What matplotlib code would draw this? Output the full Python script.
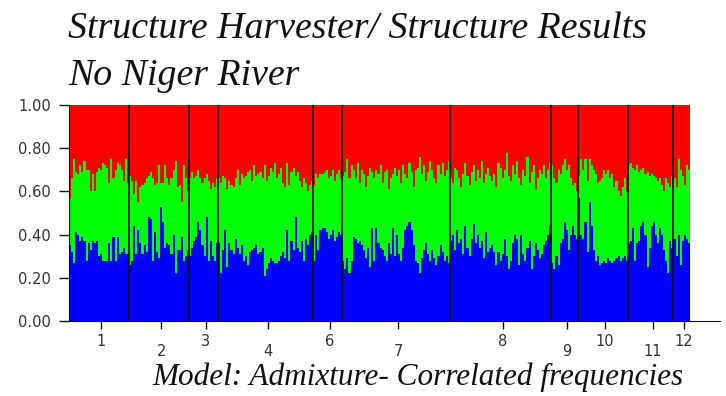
import matplotlib
matplotlib.use("Agg")
import matplotlib.pyplot as plt
import numpy as np

# Population labels (there is no population 5 in this run) and sample counts
pop_labels = ["1", "2", "3", "4", "6", "7", "8", "9", "10", "11", "12"]
pop_sizes = [29, 29, 14, 46, 14, 52, 49, 13, 24, 22, 8]

# Membership of each individual in the blue cluster (q1)
q_blue = [
    # 1
    0.35, 0.32, 0.27, 0.41, 0.40, 0.37, 0.39, 0.37, 0.28, 0.36, 0.33, 0.37, 0.36, 0.37, 0.30,
    0.31, 0.28, 0.28, 0.28, 0.36, 0.28, 0.39, 0.28, 0.39, 0.31, 0.32, 0.34, 0.31, 0.31,
    # 2
    0.26, 0.28, 0.44, 0.31, 0.42, 0.36, 0.31, 0.35, 0.32, 0.48, 0.47, 0.28, 0.41, 0.32, 0.29,
    0.53, 0.46, 0.34, 0.36, 0.35, 0.31, 0.40, 0.22, 0.33, 0.33, 0.39, 0.28, 0.30, 0.33,
    # 3
    0.30, 0.34, 0.37, 0.39, 0.46, 0.42, 0.35, 0.30, 0.48, 0.28, 0.37, 0.30, 0.28, 0.36,
    # 4
    0.36, 0.22, 0.33, 0.42, 0.25, 0.36, 0.33, 0.31, 0.38, 0.34, 0.31, 0.35, 0.28, 0.30, 0.26,
    0.32, 0.33, 0.34, 0.35, 0.31, 0.32, 0.34, 0.21, 0.24, 0.27, 0.29, 0.28, 0.27, 0.27, 0.28,
    0.30, 0.32, 0.29, 0.42, 0.28, 0.37, 0.33, 0.48, 0.34, 0.32, 0.37, 0.28, 0.38, 0.35, 0.40,
    0.41,
    # 6
    0.28, 0.40, 0.33, 0.42, 0.43, 0.43, 0.41, 0.38, 0.40, 0.42, 0.37, 0.39, 0.41, 0.40,
    # 7
    0.28, 0.24, 0.29, 0.22, 0.28, 0.39, 0.38, 0.36, 0.37, 0.35, 0.33, 0.29, 0.34, 0.25, 0.43,
    0.28, 0.43, 0.36, 0.34, 0.33, 0.30, 0.28, 0.36, 0.31, 0.43, 0.30, 0.40, 0.31, 0.28, 0.34,
    0.42, 0.44, 0.46, 0.42, 0.35, 0.28, 0.27, 0.22, 0.29, 0.33, 0.36, 0.31, 0.28, 0.33, 0.29,
    0.26, 0.30, 0.35, 0.32, 0.28, 0.30, 0.27,
    # 8
    0.37, 0.40, 0.33, 0.42, 0.36, 0.38, 0.31, 0.44, 0.34, 0.30, 0.38, 0.45, 0.36, 0.40, 0.34,
    0.37, 0.29, 0.41, 0.32, 0.34, 0.35, 0.32, 0.26, 0.32, 0.28, 0.31, 0.38, 0.30, 0.24, 0.28,
    0.36, 0.40, 0.38, 0.26, 0.40, 0.31, 0.28, 0.34, 0.37, 0.24, 0.30, 0.36, 0.33, 0.29, 0.31,
    0.35, 0.37, 0.40, 0.44,
    # 9
    0.27, 0.24, 0.30, 0.26, 0.36, 0.38, 0.46, 0.42, 0.33, 0.40, 0.44, 0.40, 0.38,
    # 10
    0.57, 0.40, 0.38, 0.46, 0.32, 0.55, 0.44, 0.33, 0.28, 0.30, 0.26, 0.27, 0.28, 0.27, 0.29,
    0.28, 0.27, 0.28, 0.29, 0.30, 0.28, 0.29, 0.30, 0.28,
    # 11
    0.36, 0.37, 0.43, 0.28, 0.36, 0.37, 0.44, 0.46, 0.40, 0.25, 0.34, 0.44, 0.46, 0.40, 0.36,
    0.43, 0.40, 0.33, 0.28, 0.22, 0.37, 0.34,
    # 12
    0.38, 0.30, 0.40, 0.26, 0.37, 0.40, 0.38, 0.36,
]

# Cumulative membership in blue + green clusters (q1 + q2); red fills the rest
q_blue_green = [
    # 1
    0.57, 0.66, 0.75, 0.69, 0.68, 0.72, 0.69, 0.74, 0.70, 0.70, 0.60, 0.68, 0.60, 0.69, 0.71,
    0.70, 0.73, 0.72, 0.71, 0.64, 0.75, 0.66, 0.70, 0.73, 0.72, 0.70, 0.65, 0.75, 0.64,
    # 2
    0.67, 0.65, 0.59, 0.65, 0.55, 0.62, 0.63, 0.64, 0.66, 0.67, 0.69, 0.66, 0.63, 0.64, 0.72,
    0.64, 0.64, 0.72, 0.66, 0.63, 0.66, 0.70, 0.74, 0.62, 0.63, 0.55, 0.72, 0.66, 0.60,
    # 3
    0.66, 0.69, 0.66, 0.67, 0.70, 0.66, 0.64, 0.66, 0.68, 0.65, 0.61, 0.64, 0.62, 0.66,
    # 4
    0.66, 0.64, 0.67, 0.66, 0.61, 0.65, 0.63, 0.62, 0.66, 0.70, 0.63, 0.68, 0.66, 0.67, 0.69,
    0.70, 0.65, 0.72, 0.67, 0.68, 0.69, 0.66, 0.72, 0.65, 0.67, 0.71, 0.69, 0.73, 0.66, 0.68,
    0.71, 0.64, 0.62, 0.73, 0.63, 0.69, 0.71, 0.67, 0.69, 0.65, 0.62, 0.66, 0.64, 0.60, 0.63,
    0.65,
    # 6
    0.63, 0.68, 0.66, 0.68, 0.68, 0.69, 0.70, 0.66, 0.67, 0.70, 0.65, 0.68, 0.70, 0.66,
    # 7
    0.67, 0.69, 0.75, 0.66, 0.72, 0.70, 0.66, 0.73, 0.64, 0.70, 0.68, 0.62, 0.67, 0.71, 0.69,
    0.66, 0.70, 0.68, 0.72, 0.64, 0.69, 0.70, 0.61, 0.66, 0.68, 0.71, 0.67, 0.70, 0.64, 0.72,
    0.68, 0.66, 0.73, 0.69, 0.62, 0.70, 0.71, 0.76, 0.68, 0.72, 0.65, 0.69, 0.74, 0.70, 0.66,
    0.64, 0.72, 0.68, 0.73, 0.67, 0.70, 0.74,
    # 8
    0.66, 0.64, 0.71, 0.70, 0.66, 0.62, 0.68, 0.73, 0.67, 0.63, 0.69, 0.72, 0.65, 0.70, 0.66,
    0.74, 0.64, 0.68, 0.71, 0.67, 0.65, 0.68, 0.62, 0.73, 0.71, 0.66, 0.70, 0.78, 0.67, 0.65,
    0.72, 0.68, 0.74, 0.66, 0.63, 0.70, 0.67, 0.76, 0.64, 0.69, 0.72, 0.61, 0.66, 0.70, 0.68,
    0.72, 0.66, 0.70, 0.73,
    # 9
    0.72, 0.66, 0.64, 0.70, 0.68, 0.72, 0.75, 0.70, 0.72, 0.66, 0.63, 0.64, 0.60,
    # 10
    0.67, 0.75, 0.70, 0.75, 0.65, 0.75, 0.72, 0.70, 0.68, 0.64, 0.65, 0.66, 0.70, 0.68, 0.70,
    0.66, 0.68, 0.62, 0.65, 0.60, 0.58, 0.62, 0.66, 0.60,
    # 11
    0.72, 0.73, 0.71, 0.70, 0.72, 0.69, 0.70, 0.71, 0.68, 0.69, 0.67, 0.68, 0.67, 0.66, 0.65,
    0.66, 0.63, 0.60, 0.66, 0.64, 0.62, 0.67,
    # 12
    0.66, 0.62, 0.75, 0.70, 0.67, 0.63, 0.72, 0.70,
]

y_ticks = [0.0, 0.2, 0.4, 0.6, 0.8, 1.0]

BLUE = "#0000ff"
GREEN = "#00ff00"
RED = "#ff0000"
INK = "#111111"
LABEL = "#333333"

blue = np.array(q_blue)
cum = np.array(q_blue_green)
n = len(blue)
x = np.arange(n)

W, H = 726, 396
fig = plt.figure(figsize=(W / 100, H / 100), dpi=100)
fig.patch.set_facecolor("white")

ax_left, ax_right = 69, 720
ax_top, ax_bottom = 105, 321
ax = fig.add_axes([ax_left / W, 1 - ax_bottom / H,
                   (ax_right - ax_left) / W, (ax_bottom - ax_top) / H])

# stacked membership bars, one per individual
ax.bar(x, blue, width=1.0, align="edge", color=BLUE, linewidth=0)
ax.bar(x, cum - blue, bottom=blue, width=1.0, align="edge", color=GREEN, linewidth=0)
ax.bar(x, 1 - cum, bottom=cum, width=1.0, align="edge", color=RED, linewidth=0)

# population separators
edges = np.cumsum(pop_sizes)
for e in edges[:-1]:
    ax.axvline(e, color=INK, linewidth=1.3, zorder=3)

px_per_bar = (690 - ax_left) / n
ax.set_xlim(0, n + (ax_right - 690) / px_per_bar)
ax.set_ylim(0, 1)

ax.set_yticks(y_ticks)
ax.set_yticklabels([f"{t:.2f}" for t in y_ticks], fontsize=10.5,
                   family="DejaVu Sans", color=LABEL)
ax.tick_params(axis="y", length=7, width=1, color=INK, pad=6)

starts = edges - np.array(pop_sizes)
centers = starts + np.array(pop_sizes) / 2 + 1
ax.set_xticks(centers)
ax.set_xticklabels([])
ax.tick_params(axis="x", length=6, width=1, color=INK)
for i, (c, lab) in enumerate(zip(centers, pop_labels)):
    dy = -15 if i % 2 == 0 else -22
    ax.annotate(lab, xy=(c, 0), xycoords=("data", "axes fraction"),
                xytext=(0, dy), textcoords="offset points",
                ha="center", va="center", fontsize=10.5,
                family="DejaVu Sans", color=LABEL)

for side in ("top", "right"):
    ax.spines[side].set_visible(False)
ax.spines["left"].set_color(INK)
ax.spines["bottom"].set_color(INK)
ax.spines["left"].set_zorder(4)

title_font = dict(family="Liberation Serif", style="italic", color="#111111")
fig.text(68 / W, 1 - 38 / H, "Structure Harvester/ Structure Results",
         fontsize=27.3, va="baseline", ha="left", **title_font)
fig.text(68 / W, 1 - 85 / H, "No Niger River",
         fontsize=27.3, va="baseline", ha="left", **title_font)
fig.text(152 / W, 1 - 385 / H, "Model: Admixture- Correlated frequencies",
         fontsize=22.5, va="baseline", ha="left", **title_font)

fig.savefig("out.png", dpi=100, facecolor="white")
